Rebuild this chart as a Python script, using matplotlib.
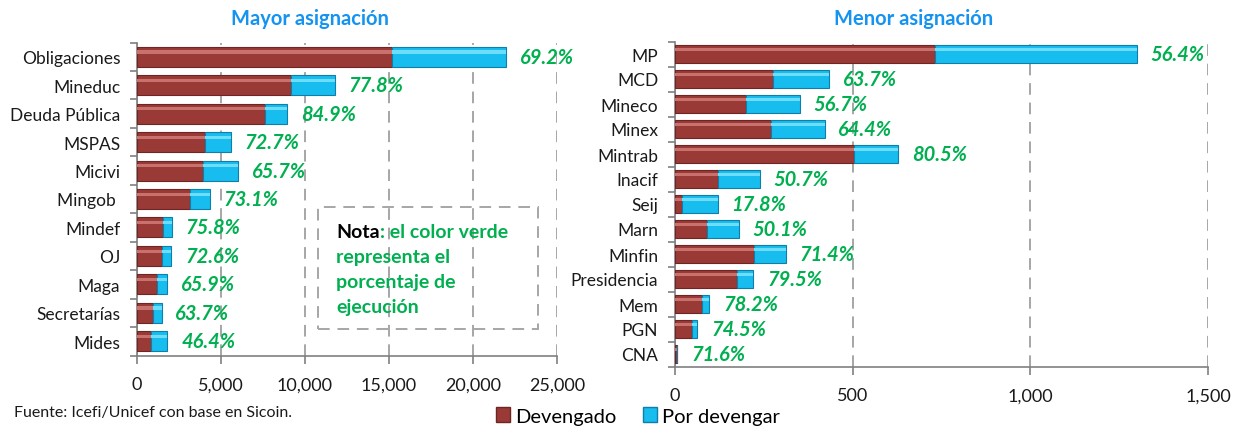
import matplotlib
matplotlib.use("Agg")
import matplotlib.pyplot as plt
from matplotlib.patches import Rectangle, Patch
from matplotlib.ticker import FuncFormatter

plt.rcParams['font.family'] = ['Lato', 'DejaVu Sans']

# ---- Data ----
left_cats = ["Obligaciones", "Mineduc", "Deuda Pública", "MSPAS", "Micivi", "Mingob ",
             "Mindef", "OJ", "Maga", "Secretarías", "Mides"]
left_dev = [15200, 9150, 7600, 4060, 3950, 3180, 1570, 1490, 1180, 930, 840]
left_por = [6770, 2610, 1350, 1520, 2060, 1170, 500, 560, 610, 530, 970]
left_pct = ["69.2%", "77.8%", "84.9%", "72.7%", "65.7%", "73.1%",
            "75.8%", "72.6%", "65.9%", "63.7%", "46.4%"]

right_cats = ["MP", "MCD", "Mineco", "Minex", "Mintrab", "Inacif", "Seij", "Marn",
              "Minfin", "Presidencia", "Mem", "PGN", "CNA"]
right_dev = [733, 276, 199, 271, 505, 121, 21, 90, 223, 175, 76, 47, 4.9]
right_por = [566, 158, 152, 150, 122, 118, 99, 90, 89, 45, 21, 16, 1.9]
right_pct = ["56.4%", "63.7%", "56.7%", "64.4%", "80.5%", "50.7%", "17.8%", "50.1%",
             "71.4%", "79.5%", "78.2%", "74.5%", "71.6%"]

left_ticks = [0, 5000, 10000, 15000, 20000, 25000]
right_ticks = [0, 500, 1000, 1500]

RED = "#9A3A37"
RED_EDGE = "#6E2523"
RED_HI = "#C9716D"
BLUE = "#16BDEE"
BLUE_EDGE = "#0F7FAA"
BLUE_HI = "#6EDDF9"
GREEN = "#00B050"
TITLE_BLUE = "#1493F0"
GRID = "#A6A6A6"
TXT = "#1A1A1A"

W, H = 1237, 427
fig = plt.figure(figsize=(W / 100, H / 100), dpi=100)


def draw(ax, cats, dev, por, pct, ticks, xmax):
    y = list(range(len(cats)))
    h = 0.70
    ax.barh(y, dev, height=h, color=RED, edgecolor=RED_EDGE, linewidth=0.8, zorder=3)
    ax.barh(y, por, left=dev, height=h, color=BLUE, edgecolor=BLUE_EDGE, linewidth=0.8, zorder=3)
    # bevel highlight
    ax.barh([v - h * 0.24 for v in y], dev, height=h * 0.16, color=RED_HI, linewidth=0, zorder=4)
    ax.barh([v - h * 0.24 for v in y], por, left=dev, height=h * 0.16, color=BLUE_HI, linewidth=0, zorder=4)
    for yi, d, p, s in zip(y, dev, por, pct):
        ax.annotate(s, xy=(d + p, yi), xytext=(10, 0), textcoords="offset points",
                    ha="left", va="center", color=GREEN, fontsize=14.5,
                    fontweight="bold", fontstyle="italic", zorder=5)
    ax.set_ylim(len(cats) - 0.5, -0.5)
    ax.set_xlim(0, xmax)
    ax.set_yticks(y)
    ax.set_yticklabels(cats, fontsize=12.5, color=TXT)
    ax.set_yticks([v + 0.5 for v in range(-1, len(cats))], minor=True)
    ax.tick_params(axis="y", which="major", length=0, pad=12)
    ax.tick_params(axis="y", which="minor", length=5, color="#808080", width=1.2)
    ax.set_xticks(ticks)
    ax.xaxis.set_major_formatter(FuncFormatter(lambda v, p: f"{int(v):,}"))
    ax.tick_params(axis="x", length=6, color="#808080", width=1.2, labelsize=13,
                   labelcolor=TXT, pad=9)
    ax.grid(axis="x", color=GRID, linestyle=(0, (6, 4)), linewidth=1.4, zorder=0)
    ax.set_axisbelow(True)
    for sp in ["top", "right"]:
        ax.spines[sp].set_visible(False)
    for sp in ["left", "bottom"]:
        ax.spines[sp].set_color("#808080")
        ax.spines[sp].set_linewidth(1.2)


ax1 = fig.add_axes([137 / W, 1 - 356.5 / H, (557 - 137) / W, (356.5 - 43.5) / H])
draw(ax1, left_cats, left_dev, left_por, left_pct, left_ticks, 25000)

ax2 = fig.add_axes([675 / W, 1 - 367.5 / H, (1208 - 675) / W, (367.5 - 42.5) / H])
draw(ax2, right_cats, right_dev, right_por, right_pct, right_ticks, 1500)

fig.text(310 / W, 1 - 19 / H, "Mayor asignación", ha="center", va="center",
         color=TITLE_BLUE, fontsize=14.5, fontweight="bold")
fig.text(914 / W, 1 - 19 / H, "Menor asignación", ha="center", va="center",
         color=TITLE_BLUE, fontsize=14.5, fontweight="bold")

# Note box
fig.patches.append(Rectangle((318 / W, 1 - 330 / H), 220 / W, 122 / H,
                             transform=fig.transFigure, fill=False,
                             edgecolor="#A6A6A6", linestyle=(0, (6, 4)), linewidth=1.4))
t = fig.text(336 / W, 1 - 232 / H, "Nota", ha="left", va="center", color="black",
             fontsize=14, fontweight="bold")
ax1.annotate(": el color verde", xy=(1, 0.5), xycoords=t, ha="left", va="center",
             color=GREEN, fontsize=14, fontweight="bold", annotation_clip=False)
for i, line in enumerate(["representa el", "porcentaje de", "ejecución"]):
    fig.text(336 / W, 1 - (257 + i * 25.5) / H, line, ha="left", va="center",
             color=GREEN, fontsize=14, fontweight="bold")

fig.text(14 / W, 1 - 413 / H, "Fuente: Icefi/Unicef con base en Sicoin.", ha="left",
         va="center", fontsize=11.5, color=TXT)

handles = [Patch(facecolor=RED, edgecolor=RED_EDGE, label="Devengado"),
           Patch(facecolor=BLUE, edgecolor=BLUE_EDGE, label="Por devengar")]
fig.legend(handles=handles, loc="center", bbox_to_anchor=(638 / W, 1 - 417 / H),
           ncol=2, frameon=False, fontsize=14.5, handlelength=0.7, handleheight=0.7,
           handletextpad=0.25, columnspacing=1.3, borderpad=0)

fig.savefig("out.png", dpi=100)
